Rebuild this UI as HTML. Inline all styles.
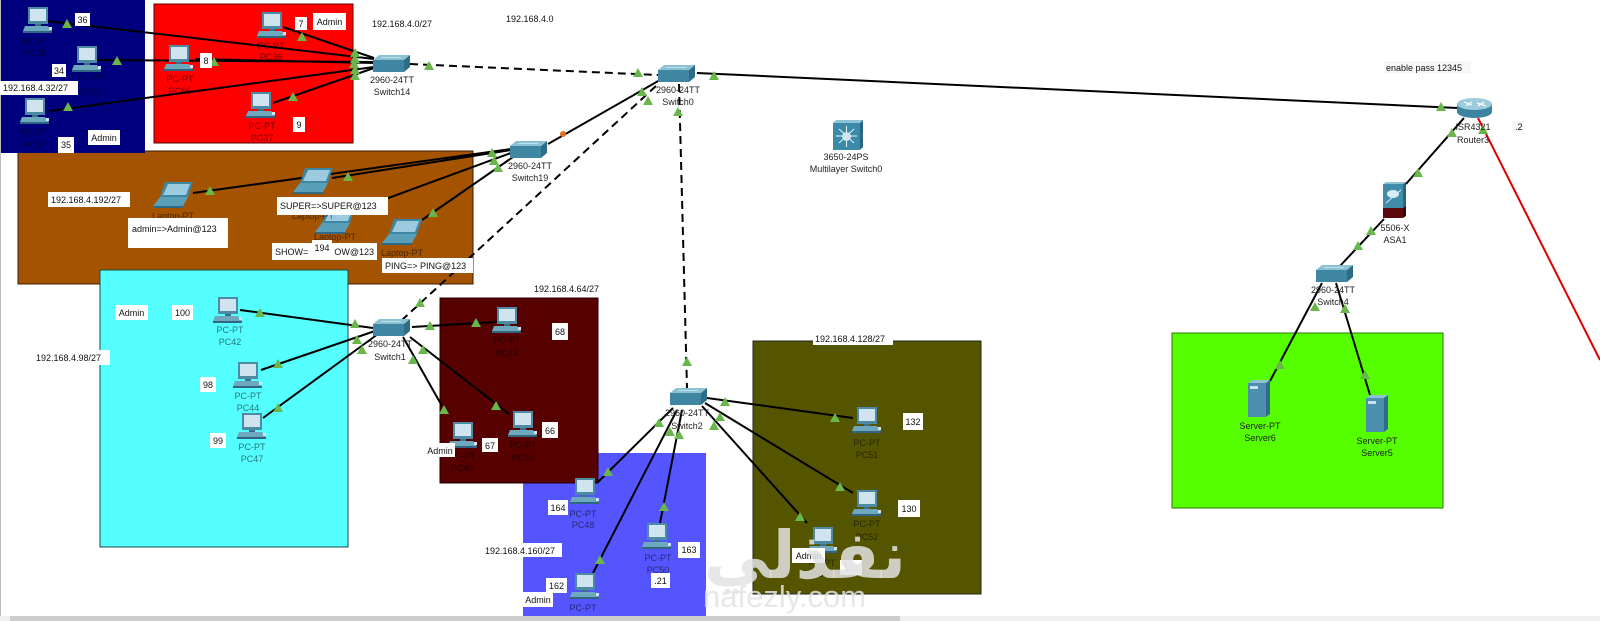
<!DOCTYPE html>
<html><head><meta charset="utf-8"><style>
html,body{margin:0;padding:0;background:#fff;}
svg{display:block;}
.t{font:9px "Liberation Sans",Arial,sans-serif;fill:#111;}
.s{font:9px "Liberation Sans",Arial,sans-serif;fill:#222;}
.d{font:9px "Liberation Sans",Arial,sans-serif;fill:#000;fill-opacity:.55;}
</style></head><body>
<svg width="1600" height="621" viewBox="0 0 1600 621" xmlns="http://www.w3.org/2000/svg">
<defs>
<g id="tri"><polygon points="0,-5 5,4 -5,4" fill="#69b64b"/></g>
<symbol id="pc" viewBox="0 0 30 27">
 <rect x="5" y="0" width="20" height="17" fill="#4d8aa3"/>
 <rect x="7" y="2" width="16" height="12" fill="#cfe4ee"/>
 <rect x="12" y="17" width="6" height="2" fill="#3a7089"/>
 <polygon points="2,19 25,19 29,24 0,24" fill="#6ea8be"/>
 <rect x="0" y="24" width="29" height="2" fill="#2f6580"/>
 <rect x="26" y="20" width="3" height="3" fill="#cfe4ee"/>
</symbol>
<symbol id="lap" viewBox="0 0 40 26">
 <polygon points="12,0 40,0 35,15 7,15" fill="#3d87a3"/>
 <polygon points="15,2 37,2 33,13 10,13" fill="#9ccbe0"/>
 <polygon points="7,15 35,15 30,24 0,24" fill="#5a9fb8"/>
 <polygon points="0,24 30,24 30,26 0,26" fill="#2e6a84"/>
</symbol>
<symbol id="sw" viewBox="0 0 37 18">
 <polygon points="0,5 6,0 37,0 31,5" fill="#8cc0d3"/>
 <rect x="0" y="5" width="31" height="12" fill="#3f86a3"/>
 <polygon points="31,5 37,0 37,12 31,17" fill="#2e6c86"/>
 <line x1="8" y1="2.5" x2="28" y2="2.5" stroke="#d5eaf2" stroke-width="0.8"/>
</symbol>
<symbol id="srv" viewBox="0 0 22 37">
 <polygon points="0,3 4,0 22,0 18,3" fill="#8fc0d4"/>
 <rect x="0" y="3" width="18" height="34" fill="#4d8fae"/>
 <polygon points="18,3 22,0 22,34 18,37" fill="#2f6c88"/>
 <rect x="2" y="6" width="8" height="3" fill="#c8e0ea"/>
</symbol>
</defs>

<!-- regions -->
<rect x="18" y="151" width="455" height="133" fill="#a45300" stroke="#3a1d00"/>
<rect x="0" y="0" width="145" height="153" fill="#00007f"/>
<rect x="154" y="4" width="199" height="139" fill="#ff0000" stroke="#5a0000"/>
<rect x="100" y="270" width="248" height="277" fill="#55ffff" stroke="#1a4a4a"/>
<rect x="523" y="453" width="183" height="164" fill="#5555ff"/>
<rect x="440" y="298" width="158" height="185" fill="#570000" stroke="#200"/>
<rect x="753" y="341" width="228" height="253" fill="#555500" stroke="#222"/>
<rect x="1172" y="333" width="271" height="175" fill="#55ff00" stroke="#2a7a00"/>
<rect x="0" y="0" width="1" height="621" fill="#bbb"/>

<!-- connectors -->
<g stroke="#000" stroke-width="2" fill="none">
 <line x1="47" y1="21" x2="374" y2="59"/>
 <line x1="98" y1="60" x2="374" y2="62"/>
 <line x1="50" y1="111" x2="374" y2="67"/>
 <line x1="283" y1="27" x2="374" y2="58"/>
 <line x1="195" y1="59" x2="374" y2="63"/>
 <line x1="273" y1="103" x2="374" y2="68"/>
 <line x1="697" y1="73" x2="1458" y2="108"/>
 <line x1="660" y1="80" x2="548" y2="144"/>
 <line x1="193" y1="193" x2="511" y2="149"/>
 <line x1="332" y1="178" x2="511" y2="150"/>
 <line x1="380" y1="201" x2="511" y2="153"/>
 <line x1="422" y1="220" x2="513" y2="157"/>
 <line x1="240" y1="310" x2="373" y2="328"/>
 <line x1="261" y1="370" x2="375" y2="331"/>
 <line x1="263" y1="418" x2="378" y2="334"/>
 <line x1="412" y1="327" x2="497" y2="322"/>
 <line x1="403" y1="337" x2="442" y2="406"/>
 <line x1="410" y1="337" x2="509" y2="414"/>
 <line x1="673" y1="408" x2="597" y2="483"/>
 <line x1="677" y1="410" x2="593" y2="573"/>
 <line x1="682" y1="410" x2="660" y2="523"/>
 <line x1="707" y1="398" x2="853" y2="418"/>
 <line x1="705" y1="403" x2="853" y2="493"/>
 <line x1="702" y1="406" x2="807" y2="523"/>
 <line x1="1464" y1="118" x2="1406" y2="184"/>
 <line x1="1384" y1="219" x2="1340" y2="266"/>
 <line x1="1322" y1="283" x2="1270" y2="381"/>
 <line x1="1336" y1="283" x2="1370" y2="395"/>
</g>
<g stroke="#000" stroke-width="2" fill="none" stroke-dasharray="8,5">
 <line x1="410" y1="64" x2="658" y2="75"/>
 <line x1="656" y1="86" x2="402" y2="320"/>
 <line x1="679" y1="84" x2="687" y2="388"/>
</g>
<line x1="1478" y1="118" x2="1600" y2="360" stroke="#e00000" stroke-width="2"/>
<circle cx="563" cy="134" r="3" fill="#e07020"/>

<!-- link lights -->
<g>
 <use href="#tri" x="67" y="24"/><use href="#tri" x="117" y="61"/><use href="#tri" x="68" y="107"/>
 <use href="#tri" x="302" y="37"/><use href="#tri" x="214" y="62"/><use href="#tri" x="293" y="97"/>
 <use href="#tri" x="355" y="53"/><use href="#tri" x="355" y="59"/><use href="#tri" x="354" y="64"/>
 <use href="#tri" x="355" y="70"/><use href="#tri" x="355" y="76"/>
 <use href="#tri" x="429" y="66"/><use href="#tri" x="638" y="73"/>
 <use href="#tri" x="714" y="76"/><use href="#tri" x="1441" y="107"/>
 <use href="#tri" x="642" y="92"/><use href="#tri" x="648" y="101"/><use href="#tri" x="420" y="303"/>
 <use href="#tri" x="678" y="112"/><use href="#tri" x="687" y="362"/>
 <use href="#tri" x="210" y="191"/><use href="#tri" x="348" y="177"/><use href="#tri" x="433" y="213"/>
 <use href="#tri" x="492" y="153"/><use href="#tri" x="494" y="161"/><use href="#tri" x="498" y="168"/>
 <use href="#tri" x="260" y="313"/><use href="#tri" x="355" y="324"/>
 <use href="#tri" x="278" y="364"/><use href="#tri" x="357" y="340"/>
 <use href="#tri" x="278" y="408"/><use href="#tri" x="362" y="350"/>
 <use href="#tri" x="430" y="326"/><use href="#tri" x="476" y="323"/>
 <use href="#tri" x="413" y="360"/><use href="#tri" x="444" y="410"/>
 <use href="#tri" x="423" y="350"/><use href="#tri" x="496" y="406"/>
 <use href="#tri" x="659" y="423"/><use href="#tri" x="608" y="472"/>
 <use href="#tri" x="670" y="432"/><use href="#tri" x="600" y="560"/>
 <use href="#tri" x="679" y="435"/><use href="#tri" x="664" y="507"/>
 <use href="#tri" x="725" y="402"/><use href="#tri" x="835" y="418"/>
 <use href="#tri" x="720" y="417"/><use href="#tri" x="840" y="487"/>
 <use href="#tri" x="714" y="426"/><use href="#tri" x="800" y="517"/>
 <use href="#tri" x="1452" y="133"/><use href="#tri" x="1418" y="173"/><use href="#tri" x="1483" y="130"/>
 <use href="#tri" x="1371" y="231"/><use href="#tri" x="1358" y="246"/>
 <use href="#tri" x="1315" y="307"/><use href="#tri" x="1280" y="365"/>
 <use href="#tri" x="1345" y="309"/><use href="#tri" x="1365" y="375"/>
</g>

<!-- PCs -->
<g>
 <use href="#pc" x="23" y="7" width="30" height="27"/>
 <use href="#pc" x="72" y="46" width="30" height="27"/>
 <use href="#pc" x="20" y="98" width="30" height="27"/>
 <use href="#pc" x="257" y="12" width="30" height="27"/>
 <use href="#pc" x="164" y="45" width="30" height="27"/>
 <use href="#pc" x="246" y="92" width="30" height="27"/>
 <use href="#pc" x="213" y="297" width="30" height="27"/>
 <use href="#pc" x="233" y="362" width="30" height="27"/>
 <use href="#pc" x="237" y="413" width="30" height="27"/>
 <use href="#pc" x="492" y="307" width="30" height="27"/>
 <use href="#pc" x="448" y="422" width="30" height="27"/>
 <use href="#pc" x="508" y="411" width="30" height="27"/>
 <use href="#pc" x="570" y="478" width="30" height="27"/>
 <use href="#pc" x="642" y="523" width="30" height="27"/>
 <use href="#pc" x="570" y="573" width="30" height="27"/>
 <use href="#pc" x="852" y="407" width="30" height="27"/>
 <use href="#pc" x="852" y="490" width="30" height="27"/>
 <use href="#pc" x="808" y="527" width="30" height="27"/>
 <use href="#lap" x="153" y="182" width="40" height="26"/>
 <use href="#lap" x="293" y="168" width="40" height="26"/>
 <use href="#lap" x="315" y="208" width="40" height="26"/>
 <use href="#lap" x="382" y="219" width="40" height="26"/>
 <use href="#sw" x="373" y="55" width="37" height="18"/>
 <use href="#sw" x="658" y="65" width="37" height="18"/>
 <use href="#sw" x="510" y="141" width="37" height="18"/>
 <use href="#sw" x="373" y="319" width="37" height="18"/>
 <use href="#sw" x="670" y="388" width="37" height="18"/>
 <use href="#sw" x="1316" y="265" width="37" height="18"/>
 <use href="#srv" x="1248" y="380" width="22" height="37"/>
 <use href="#srv" x="1366" y="395" width="22" height="37"/>
</g>
<!-- router -->
<g>
 <rect x="1457" y="104" width="35" height="8" fill="#3d84a1"/>
 <ellipse cx="1474.5" cy="112" rx="17.5" ry="6" fill="#3d84a1"/>
 <ellipse cx="1474.5" cy="104" rx="17.5" ry="6" fill="#9ccbdc"/>
 <g stroke="#fff" stroke-width="1.2">
  <line x1="1464" y1="102" x2="1472" y2="105"/><line x1="1477" y1="103" x2="1486" y2="106"/>
  <line x1="1466" y1="106" x2="1472" y2="102"/><line x1="1478" y1="106" x2="1484" y2="102"/>
 </g>
</g>
<!-- ASA -->
<g>
 <rect x="1383" y="184" width="20" height="24" fill="#3f8cab"/>
 <polygon points="1403,184 1406,182 1406,206 1403,208" fill="#2a6580"/>
 <polygon points="1383,184 1386,182 1406,182 1403,184" fill="#8fc3d6"/>
 <rect x="1383" y="208" width="20" height="10" fill="#5a0a0a"/>
 <polygon points="1403,208 1406,206 1406,216 1403,218" fill="#3a0505"/>
 <ellipse cx="1393" cy="194" rx="6" ry="4" fill="#d8eef6"/>
 <line x1="1386" y1="203" x2="1401" y2="190" stroke="#d8eef6" stroke-width="1"/>
</g>
<!-- Multilayer switch -->
<g>
 <rect x="833" y="123" width="27" height="27" fill="#3a8aa8"/>
 <polygon points="833,123 836,120 863,120 860,123" fill="#8fc3d6"/>
 <polygon points="860,123 863,120 863,147 860,150" fill="#266680"/>
 <g stroke="#e8f6fb" stroke-width="1">
  <line x1="836" y1="136" x2="857" y2="136"/><line x1="846.5" y1="126" x2="846.5" y2="147"/>
  <line x1="839" y1="129" x2="854" y2="143"/><line x1="854" y1="129" x2="839" y2="143"/>
 </g>
 <circle cx="846.5" cy="136.5" r="4.5" fill="#cfe6f0"/>
</g>

<!-- device labels -->
<g class="d" text-anchor="middle">
 <text x="35" y="45">PC-PT</text><text x="35" y="56">PC38</text>
 <text x="90" y="80">PC-PT</text><text x="90" y="95">PC35</text>
 <text x="35" y="135">PC-PT</text><text x="35" y="148">PC37</text>
 <text x="271" y="49">PC-PT</text><text x="271" y="60">PC36</text>
 <text x="180" y="82">PC-PT</text><text x="180" y="94">PC66</text>
 <text x="262" y="129">PC-PT</text><text x="262" y="141">PC37</text>
 <text x="230" y="333">PC-PT</text><text x="230" y="345">PC42</text>
 <text x="248" y="399">PC-PT</text><text x="248" y="411">PC44</text>
 <text x="252" y="450">PC-PT</text><text x="252" y="462">PC47</text>
 <text x="507" y="343">PC-PT</text><text x="507" y="356">PC43</text>
 <text x="462" y="459">PC-PT</text><text x="462" y="471">PC43</text>
 <text x="523" y="448">PC-PT</text><text x="523" y="461">PC46</text>
 <text x="583" y="517">PC-PT</text><text x="583" y="528">PC48</text>
 <text x="658" y="561">PC-PT</text><text x="658" y="573">PC50</text>
 <text x="583" y="611">PC-PT</text>
 <text x="867" y="446">PC-PT</text><text x="867" y="458">PC51</text>
 <text x="867" y="527">PC-PT</text><text x="867" y="540">PC52</text>
 <text x="822" y="566">PC-PT</text><text x="822" y="577">PC53</text>
 <text x="173" y="219">Laptop-PT</text>
 <text x="313" y="219">Laptop-PT</text>
 <text x="335" y="240">Laptop-PT</text>
 <text x="402" y="256">Laptop-PT</text>
</g>
<g class="s" text-anchor="middle">
 <text x="392" y="83">2960-24TT</text><text x="392" y="95">Switch14</text>
 <text x="678" y="93">2960-24TT</text><text x="678" y="105">Switch0</text>
 <text x="530" y="169">2960-24TT</text><text x="530" y="181">Switch19</text>
 <text x="390" y="347">2960-24TT</text><text x="390" y="360">Switch1</text>
 <text x="687" y="416">2960-24TT</text><text x="687" y="429">Switch2</text>
 <text x="1333" y="293">2960-24TT</text><text x="1333" y="305">Switch4</text>
 <text x="1473" y="130">ISR4321</text><text x="1473" y="143">Router3</text>
 <text x="1395" y="231">5506-X</text><text x="1395" y="243">ASA1</text>
 <text x="846" y="160">3650-24PS</text><text x="846" y="172">Multilayer Switch0</text>
 <text x="1260" y="429">Server-PT</text><text x="1260" y="441">Server6</text>
 <text x="1377" y="444">Server-PT</text><text x="1377" y="456">Server5</text>
</g>

<!-- notes -->
<g fill="#fff">
 <rect x="75" y="13" width="15" height="13"/>
 <rect x="52" y="64" width="14" height="13"/>
 <rect x="0" y="81" width="78" height="14"/>
 <rect x="88" y="130" width="32" height="15"/>
 <rect x="58" y="137" width="16" height="16"/>
 <rect x="295" y="17" width="12" height="13"/>
 <rect x="313" y="13" width="33" height="17"/>
 <rect x="200" y="53" width="12" height="15"/>
 <rect x="293" y="117" width="12" height="15"/>
 <rect x="48" y="192" width="82" height="15"/>
 <rect x="128" y="218" width="100" height="30"/>
 <rect x="277" y="197" width="111" height="18"/>
 <rect x="272" y="243" width="105" height="17"/>
 <rect x="312" y="240" width="20" height="15"/>
 <rect x="382" y="258" width="91" height="15"/>
 <rect x="115" y="305" width="33" height="15"/>
 <rect x="172" y="305" width="21" height="15"/>
 <rect x="33" y="350" width="77" height="15"/>
 <rect x="200" y="377" width="16" height="15"/>
 <rect x="210" y="433" width="16" height="15"/>
 <rect x="552" y="323" width="16" height="17"/>
 <rect x="425" y="443" width="30" height="14"/>
 <rect x="482" y="438" width="16" height="14"/>
 <rect x="542" y="422" width="16" height="16"/>
 <rect x="548" y="500" width="20" height="15"/>
 <rect x="482" y="543" width="80" height="14"/>
 <rect x="678" y="542" width="22" height="16"/>
 <rect x="651" y="573" width="19" height="15"/>
 <rect x="546" y="578" width="21" height="15"/>
 <rect x="523" y="592" width="30" height="15"/>
 <rect x="813" y="333" width="80" height="12"/>
 <rect x="903" y="413" width="20" height="17"/>
 <rect x="898" y="500" width="22" height="17"/>
 <rect x="792" y="548" width="33" height="15"/>
 <rect x="840" y="560" width="22" height="15"/>
 <rect x="1384" y="61" width="87" height="13" fill="#f7f7f9"/>
 <rect x="1512" y="121" width="12" height="12" fill="#f7f7f9"/>
</g>
<g class="t">
 <text x="82.5" y="23" text-anchor="middle">36</text>
 <text x="59" y="74" text-anchor="middle">34</text>
 <text x="3" y="91">192.168.4.32/27</text>
 <text x="104" y="141" text-anchor="middle">Admin</text>
 <text x="66" y="148" text-anchor="middle">35</text>
 <text x="301" y="27" text-anchor="middle">7</text>
 <text x="329.5" y="25" text-anchor="middle">Admin</text>
 <text x="206" y="64" text-anchor="middle">8</text>
 <text x="299" y="128" text-anchor="middle">9</text>
 <text x="372" y="27">192.168.4.0/27</text>
 <text x="506" y="22">192.168.4.0</text>
 <text x="51" y="203">192.168.4.192/27</text>
 <text x="132" y="232">admin=&gt;Admin@123</text>
 <text x="280" y="209">SUPER=&gt;SUPER@123</text>
 <text x="275" y="255">SHOW=</text>
 <text x="374" y="255" text-anchor="end">OW@123</text>
 <text x="322" y="251" text-anchor="middle">194</text>
 <text x="385" y="269">PING=&gt; PING@123</text>
 <text x="131.5" y="316" text-anchor="middle">Admin</text>
 <text x="182.5" y="316" text-anchor="middle">100</text>
 <text x="36" y="361">192.168.4.98/27</text>
 <text x="208" y="388" text-anchor="middle">98</text>
 <text x="218" y="444" text-anchor="middle">99</text>
 <text x="560" y="335" text-anchor="middle">68</text>
 <text x="440" y="454" text-anchor="middle">Admin</text>
 <text x="490" y="449" text-anchor="middle">67</text>
 <text x="550" y="434" text-anchor="middle">66</text>
 <text x="534" y="292">192.168.4.64/27</text>
 <text x="558" y="511" text-anchor="middle">164</text>
 <text x="485" y="554">192.168.4.160/27</text>
 <text x="689" y="553" text-anchor="middle">163</text>
 <text x="660.5" y="584" text-anchor="middle">.21</text>
 <text x="556.5" y="589" text-anchor="middle">162</text>
 <text x="538" y="603" text-anchor="middle">Admin</text>
 <text x="815" y="342">192.168.4.128/27</text>
 <text x="913" y="425" text-anchor="middle">132</text>
 <text x="909" y="512" text-anchor="middle">130</text>
 <text x="808.5" y="559" text-anchor="middle">Admin</text>
 <text x="851" y="571" text-anchor="middle" fill="#bbb">131</text>
 <text x="1386" y="71">enable pass 12345</text>
 <text x="1515" y="130">.2</text>
</g>

<!-- watermark -->
<g fill="#e3e3e3" fill-opacity="0.85">
 <text x="805" y="578" text-anchor="middle" font-family="DejaVu Sans, sans-serif" font-weight="bold" font-size="66">نفذلي</text>
 <text x="703" y="607" font-family="Liberation Sans, sans-serif" font-size="31">nafezly.com</text>
</g>

<!-- bottom scrollbar -->
<rect x="0" y="616" width="1600" height="5" fill="#f0f0f0"/>
<rect x="10" y="616" width="890" height="5" fill="#cdcdcd"/>
</svg>
</body></html>
